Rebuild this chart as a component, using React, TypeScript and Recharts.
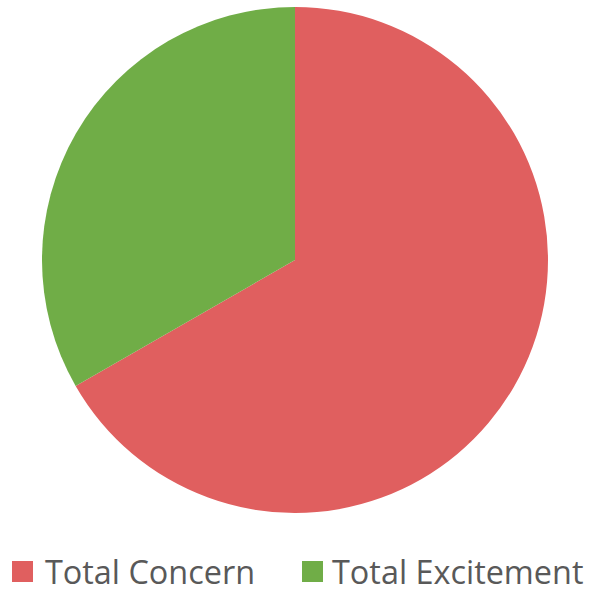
import React from "react";
import { PieChart, Pie, Cell, Legend } from "recharts";

const categories = ["Total Concern", "Total Excitement"];
const values = [66.7, 33.3];
const colors = ["#E05F5F", "#70AD47"];

const data = categories.map((name, i) => ({ name, value: values[i] }));

const renderLegend = () => (
  <div
    style={{
      display: "flex",
      justifyContent: "flex-start",
      alignItems: "center",
      fontFamily: "'Open Sans', sans-serif",
      fontSize: 32.4,
      lineHeight: "34px",
      height: 34,
      color: "#595959",
      whiteSpace: "nowrap",
      paddingLeft: 12,
    }}
  >
    {categories.map((c, i) => (
      <div key={c} style={{ display: "flex", alignItems: "center", marginRight: i === 0 ? 47 : 0 }}>
        <span
          style={{
            display: "inline-block",
            width: 21,
            height: 21,
            background: colors[i],
            marginRight: i === 0 ? 12 : 9,
          }}
        />
        <span>{c}</span>
      </div>
    ))}
  </div>
);

export default function App() {
  return (
    <div style={{ position: "absolute", left: 0, top: 0, width: 596, height: 589, background: "#fff" }}>
      <PieChart width={596} height={589} margin={{ top: 0, right: 0, bottom: 0, left: 0 }}>
        <Pie
          data={data}
          dataKey="value"
          nameKey="name"
          cx={295}
          cy={260}
          outerRadius={253}
          startAngle={90}
          endAngle={-270}
          stroke="none"
          isAnimationActive={false}
        >
          {data.map((d, i) => (
            <Cell key={d.name} fill={colors[i]} />
          ))}
        </Pie>
        <Legend
          content={renderLegend}
          verticalAlign="bottom"
          wrapperStyle={{ left: 0, width: 596, bottom: 1 }}
        />
      </PieChart>
    </div>
  );
}
